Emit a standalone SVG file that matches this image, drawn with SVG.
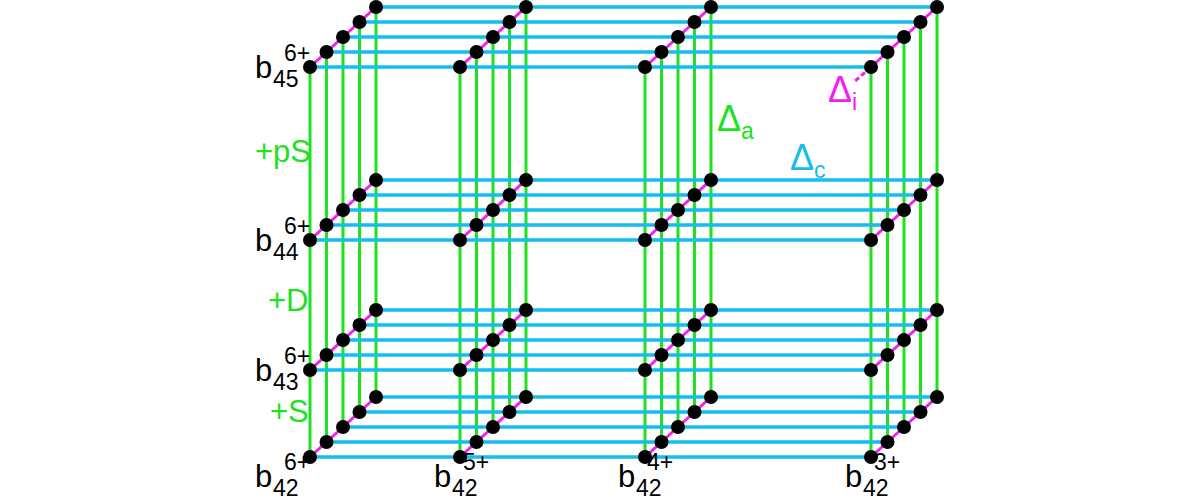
<svg xmlns="http://www.w3.org/2000/svg" width="1200" height="500" viewBox="0 0 1200 500">
<style>
.c{stroke:#14bdee;stroke-width:3.5}
.a{stroke:#1de21d;stroke-width:3}
.i{stroke:#f020f0;stroke-width:3}
.n{fill:#000}
text{font-family:"Liberation Sans",Arial,sans-serif;font-size:31px}
.s{font-size:23px}
.d{font-size:36px}
</style>
<rect width="1200" height="500" fill="#fff"/>
<g id="connectors">
<g class="a">
<path d="M310,67V457M326.5,52V442M343,37V427M359.5,22V412M376,7V397
M460,67V457M476.5,52V442M493,37V427M509.5,22V412M526,7V397
M645,67V457M661.5,52V442M678,37V427M694.5,22V412M711,7V397
M871,67V457M887.5,52V442M904,37V427M920.5,22V412M937,7V397"/>
</g>
<g class="c">
<path d="M310,67H871M326.5,52H887.5M343,37H904M359.5,22H920.5M376,7H937
M310,240H871M326.5,225H887.5M343,210H904M359.5,195H920.5M376,180H937
M310,370H871M326.5,355H887.5M343,340H904M359.5,325H920.5M376,310H937
M310,457H871M326.5,442H887.5M343,427H904M359.5,412H920.5M376,397H937"/>
</g>
<g class="i">
<path d="M310,67l66,-60M460,67l66,-60M645,67l66,-60M871,67l66,-60
M310,240l66,-60M460,240l66,-60M645,240l66,-60M871,240l66,-60
M310,370l66,-60M460,370l66,-60M645,370l66,-60M871,370l66,-60
M310,457l66,-60M460,457l66,-60M645,457l66,-60M871,457l66,-60"/>
<path d="M871,67l-17,15" stroke-dasharray="5,3"/>
</g>
</g>
<defs>
<g id="row"><circle cx="0" cy="0" r="7"/><circle cx="16.5" cy="-15" r="7"/><circle cx="33" cy="-30" r="7"/><circle cx="49.5" cy="-45" r="7"/><circle cx="66" cy="-60" r="7"/></g>
</defs>
<g id="nodes" class="n">
<use href="#row" x="310" y="67"/><use href="#row" x="460" y="67"/><use href="#row" x="645" y="67"/><use href="#row" x="871" y="67"/>
<use href="#row" x="310" y="240"/><use href="#row" x="460" y="240"/><use href="#row" x="645" y="240"/><use href="#row" x="871" y="240"/>
<use href="#row" x="310" y="370"/><use href="#row" x="460" y="370"/><use href="#row" x="645" y="370"/><use href="#row" x="871" y="370"/>
<use href="#row" x="310" y="457"/><use href="#row" x="460" y="457"/><use href="#row" x="645" y="457"/><use href="#row" x="871" y="457"/>
</g>
<g id="labels">
<text x="255" y="78">b<tspan class="s" x="273" y="87">45</tspan><tspan class="s" x="284" y="61">6+</tspan></text>
<text x="255" y="251">b<tspan class="s" x="273" y="260">44</tspan><tspan class="s" x="284" y="234">6+</tspan></text>
<text x="255" y="381">b<tspan class="s" x="273" y="390">43</tspan><tspan class="s" x="284" y="364">6+</tspan></text>
<text x="255" y="487">b<tspan class="s" x="273" y="496">42</tspan><tspan class="s" x="284" y="470">6+</tspan></text>
<text x="434" y="487">b<tspan class="s" x="452" y="496">42</tspan><tspan class="s" x="463" y="470">5+</tspan></text>
<text x="618" y="487">b<tspan class="s" x="636" y="496">42</tspan><tspan class="s" x="647" y="470">4+</tspan></text>
<text x="845" y="487">b<tspan class="s" x="863" y="496">42</tspan><tspan class="s" x="874" y="470">3+</tspan></text>
<text x="255" y="162" fill="#1de21d">+pS</text>
<text x="268" y="311" fill="#1de21d">+D</text>
<text x="270" y="422" fill="#1de21d">+S</text>
<text x="717" y="131" fill="#1de21d" class="d">Δ<tspan class="s" dy="8">a</tspan></text>
<text x="790" y="170" fill="#14bdee" class="d">Δ<tspan class="s" dy="8">c</tspan></text>
<text x="828" y="102" fill="#f020f0" class="d">Δ<tspan class="s" dy="8">i</tspan></text>
</g>
</svg>
